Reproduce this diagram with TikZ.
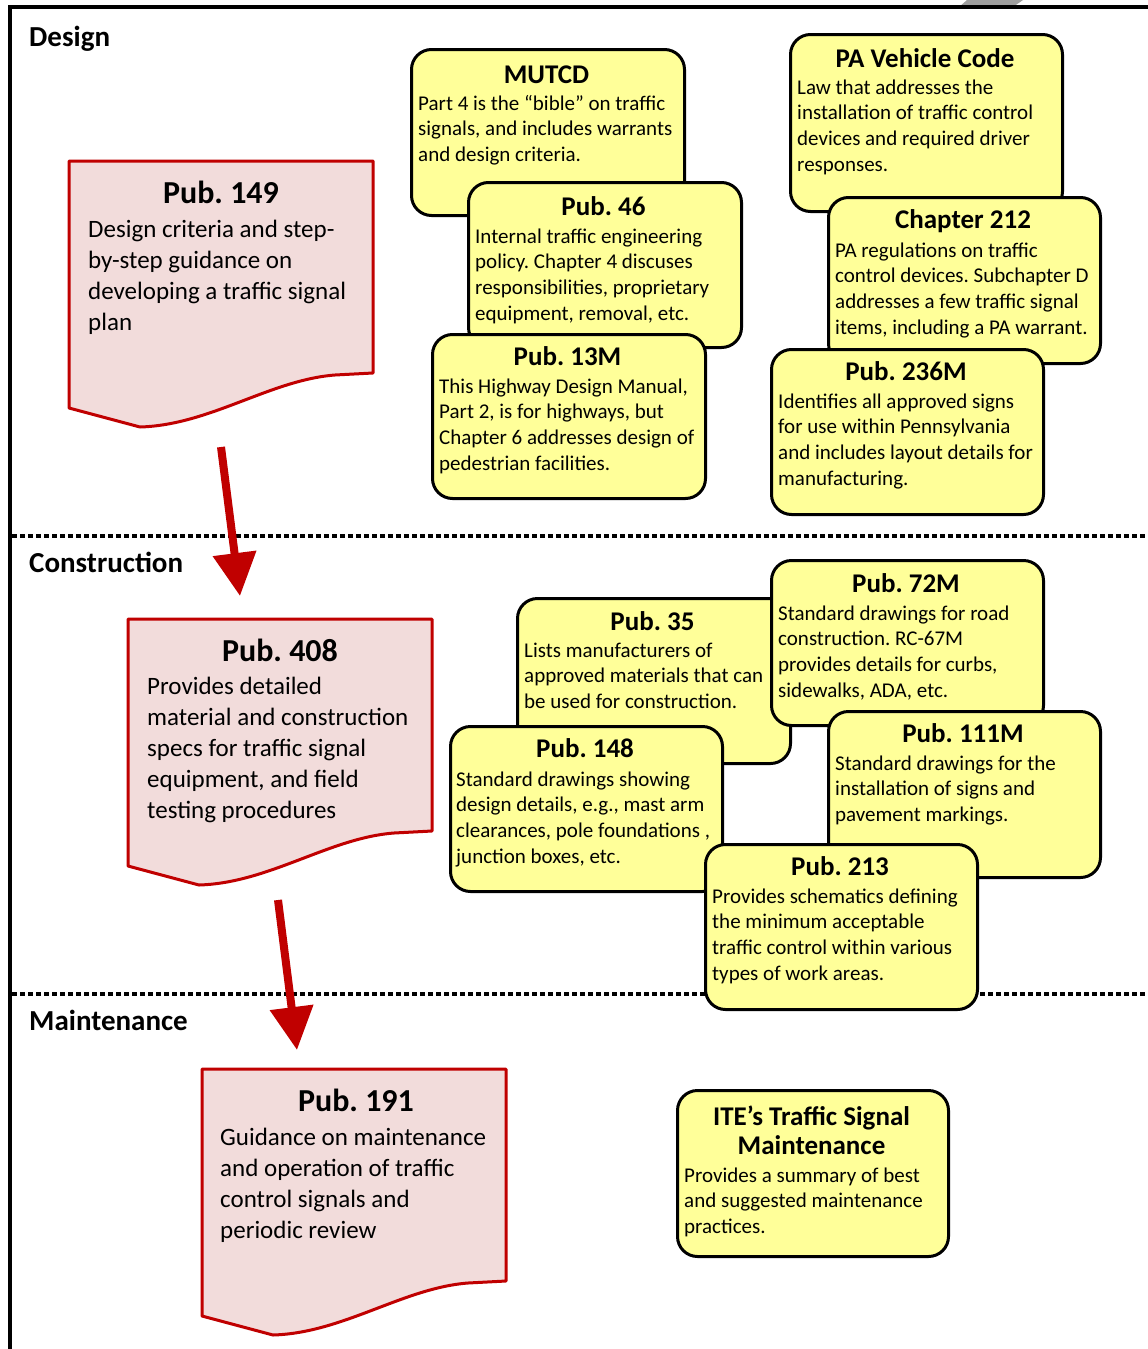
\documentclass[tikz,border=0pt]{standalone}
\usepackage{fontspec}
\setmainfont{Carlito}
\usetikzlibrary{arrows.meta}
\frenchspacing
\definecolor{yfill}{RGB}{255,255,153}
\definecolor{pfill}{RGB}{242,220,219}
\definecolor{dred}{RGB}{192,0,0}
\tikzset{
  ybox/.style={draw=black, line width=3, fill=yfill, rounded corners=20, inner sep=0, anchor=north west},
  ytitle/.style={font=\fontsize{27}{29}\selectfont\bfseries, anchor=base, inner sep=0},
  ybody/.style={font=\fontsize{21}{25.7}\selectfont, align=left, anchor=base west, inner sep=0},
  ptitle/.style={font=\fontsize{32}{38}\selectfont\bfseries, anchor=base, inner sep=0},
  pbody/.style={font=\fontsize{25}{31}\selectfont, align=left, anchor=base west, inner sep=0},
  section/.style={font=\fontsize{29}{34}\selectfont\bfseries, anchor=base west, inner sep=0},
  docshape/.style={draw=dred, line width=3, fill=pfill, line join=round},
  sep/.style={line width=4, dash pattern=on 5 off 3},
  redarrow/.style={draw=dred, line width=8, -{Triangle[width=42, length=43]}, fill=dred}
}
\newcommand{\pinkdoc}[2]{%
  \path[docshape] (#1,#2) -- ++(304,0) -- ++(0,212) -- ++(-38,2)
    .. controls ++(-65,5) and ++(70,-2) .. ++(-195,52) -- ++(-71,-19) -- cycle;}
\begin{document}
% multi-line nodes: the base anchor lies on the last line's baseline
\begin{tikzpicture}[x=1pt, y=-1pt]
\useasboundingbox (0,0) rectangle (1148,1349);
\fill[white] (0,0) rectangle (1148,1349);
% gray fragment at top
\fill[gray!75] (959,7) -- (967,0) -- (1023,0) -- (1013,7) -- cycle;
% frame
\draw[line width=4, line join=miter] (10,1349) -- (10,7) -- (1148,7);
% separators
\draw[sep] (12,536) -- (1148,536);
\draw[sep] (12,994) -- (1148,994);
% section labels
\node[section] (lDesign) at (29,46) {Design};
\node[section] (lConstr) at (29,572) {Construction};
\node[section] (lMaint) at (29,1030) {Maintenance};

% ---------- Design yellow boxes ----------
\node[ybox, minimum width=273, minimum height=166] (mutcd) at (410,48) {};
\node[ytitle] (mutcdT) at (546.5,83) {MUTCD};
\node[ybody] (mutcdB) at (418,161.4) {Part 4 is the “bible” on traffic\\signals, and includes warrants\\and design criteria.};

\node[ybox, minimum width=273, minimum height=165] (p46) at (467,181) {};
\node[ytitle] (p46T) at (603.5,215) {Pub. 46};
\node[ybody] (p46B) at (475,320.1) {Internal traffic engineering\\policy. Chapter 4 discuses\\responsibilities, proprietary\\equipment, removal, etc.};

\node[ybox, minimum width=273, minimum height=164] (p13) at (431,333) {};
\node[ytitle] (p13T) at (567.5,365) {Pub. 13M};
\node[ybody] (p13B) at (439,470.1) {This Highway Design Manual,\\Part 2, is for highways, but\\Chapter 6 addresses design of\\pedestrian facilities.};

\node[ybox, minimum width=272, minimum height=177] (pavc) at (789,33) {};
\node[ytitle] (pavcT) at (925,67) {PA Vehicle Code};
\node[ybody] (pavcB) at (797,171.1) {Law that addresses the\\installation of traffic control\\devices and required driver\\responses.};

\node[ybox, minimum width=272, minimum height=166] (ch212) at (827,196) {};
\node[ytitle] (ch212T) at (963,228) {Chapter 212};
\node[ybody] (ch212B) at (835,334.1) {PA regulations on traffic\\control devices. Subchapter D\\addresses a few traffic signal\\items, including a PA warrant.};

\node[ybox, minimum width=272, minimum height=165] (p236) at (770,348) {};
\node[ytitle] (p236T) at (906,380) {Pub. 236M};
\node[ybody] (p236B) at (778,485.1) {Identifies all approved signs\\for use within Pennsylvania\\and includes layout details for\\manufacturing.};

% ---------- Construction yellow boxes ----------
\node[ybox, minimum width=273, minimum height=165] (p35) at (516,597) {};
\node[ytitle] (p35T) at (652.5,630) {Pub. 35};
\node[ybody] (p35B) at (524,708.4) {Lists manufacturers of\\approved materials that can\\be used for construction.};

\node[ybox, minimum width=272, minimum height=165] (p72) at (770,559) {};
\node[ytitle] (p72T) at (906,592) {Pub. 72M};
\node[ybody] (p72B) at (778,697.1) {Standard drawings for road\\construction. RC-67M\\provides details for curbs,\\sidewalks, ADA, etc.};

\node[ybox, minimum width=272, minimum height=165] (p148) at (449,725) {};
\node[ytitle] (p148T) at (585,757) {Pub. 148};
\node[ybody] (p148B) at (456,863.1) {Standard drawings showing\\design details, e.g., mast arm\\clearances, pole foundations ,\\junction boxes, etc.};

\node[ybox, minimum width=272, minimum height=166] (p111) at (827,710) {};
\node[ytitle] (p111T) at (963,742) {Pub. 111M};
\node[ybody] (p111B) at (835,821.4) {Standard drawings for the\\installation of signs and\\pavement markings.};

\node[ybox, minimum width=272, minimum height=165] (p213) at (704,843) {};
\node[ytitle] (p213T) at (840,875) {Pub. 213};
\node[ybody] (p213B) at (712,980.1) {Provides schematics defining\\the minimum acceptable\\traffic control within various\\types of work areas.};

% ---------- Maintenance yellow box ----------
\node[ybox, minimum width=271, minimum height=166] (ite) at (676,1089) {};
\node[ytitle, align=center] (iteT) at (811.5,1154) {ITE’s Traffic Signal\\Maintenance};
\node[ybody] (iteB) at (684,1233.4) {Provides a summary of best\\and suggested maintenance\\practices.};

% ---------- Pink document shapes ----------
\pinkdoc{69}{161}
\node[ptitle] (p149T) at (221,203) {Pub. 149};
\node[pbody] (p149B) at (88,330) {Design criteria and step-\\by-step guidance on\\developing a traffic signal\\plan};

\pinkdoc{128}{619}
\node[ptitle] (p408T) at (280,661) {Pub. 408};
\node[pbody] (p408B) at (147,818) {Provides detailed\\material and construction\\specs for traffic signal\\equipment, and field\\testing procedures};

\pinkdoc{202}{1069}
\node[ptitle] (p191T) at (356,1111) {Pub. 191};
\node[pbody] (p191B) at (220,1238) {Guidance on maintenance\\and operation of traffic\\control signals and\\periodic review};

% ---------- arrows ----------
\coordinate (a1s) at (221,447);
\coordinate (a1e) at (240,596);
\coordinate (a2s) at (278,900);
\coordinate (a2e) at (297,1050);
\draw[redarrow] (a1s) -- (a1e);
\draw[redarrow] (a2s) -- (a2e);
\end{tikzpicture}
\end{document}
